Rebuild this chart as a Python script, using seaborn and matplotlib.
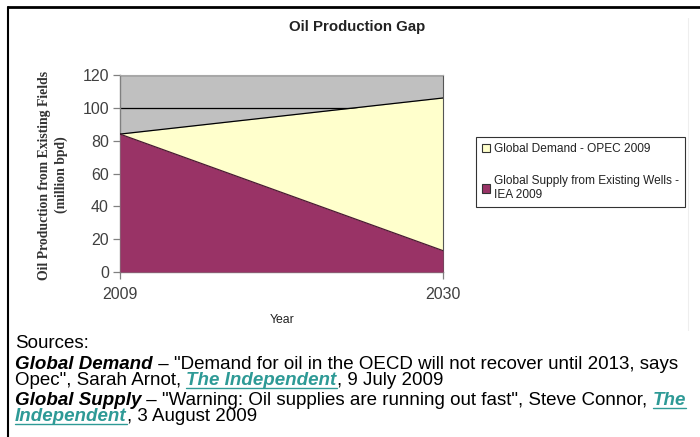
import matplotlib
matplotlib.use("Agg")
import matplotlib.pyplot as plt
import seaborn as sns
import pandas as pd
from matplotlib.lines import Line2D
from matplotlib.patches import Patch

# ---- data -------------------------------------------------------------
years = [2009, 2030]
year_labels = ["2009", "2030"]
demand = [84, 106]          # Global Demand - OPEC 2009 (million bpd)
supply = [84, 13]           # Global Supply from Existing Wells - IEA 2009
y_ticks = [0, 20, 40, 60, 80, 100, 120]
series_names = ["Global Demand - OPEC 2009",
                "Global Supply from Existing Wells -\nIEA 2009"]

W, H = 700, 437

sns.set_theme(style="white")
plt.rcParams['font.family'] = ['Liberation Sans', 'DejaVu Sans']

fig = plt.figure(figsize=(W / 100, H / 100), dpi=100)
fig.patch.set_facecolor("white")

def fx(px):
    return px / W

def fy(py):
    return 1 - py / H

# plot area
ax = fig.add_axes([fx(120), fy(272), fx(443) - fx(120), fy(75) - fy(272)])
ax.set_facecolor("#c0c0c0")

df = pd.DataFrame({"Year": years, "Demand": demand, "Supply": supply})

ax.set_axisbelow(True)
ax.yaxis.grid(True, color="black", lw=0.9)
ax.fill_between(df["Year"], 0, df["Demand"], color="#ffffcc", zorder=2, lw=0)
ax.fill_between(df["Year"], 0, df["Supply"], color="#993366", zorder=3, lw=0)
sns.lineplot(data=df, x="Year", y="Demand", color="black", lw=0.9, ax=ax, zorder=4)
sns.lineplot(data=df, x="Year", y="Supply", color="#4a1a33", lw=0.9, ax=ax, zorder=4)

ax.set_xlim(years[0], years[-1])
ax.set_ylim(y_ticks[0], y_ticks[-1])
ax.set_yticks(y_ticks)
ax.set_yticklabels([str(v) for v in y_ticks])
ax.set_xticks(years)
ax.set_xticklabels(year_labels)
ax.set_xlabel("")
ax.set_ylabel("")

for side in ["left", "bottom"]:
    ax.spines[side].set_color("#808080")
    ax.spines[side].set_linewidth(1.0)
ax.spines["top"].set_color("#a8a8a8")
ax.spines["top"].set_linewidth(0.8)
ax.spines["right"].set_color("#555555")
ax.spines["right"].set_linewidth(0.8)
ax.tick_params(axis="both", direction="out", length=5, width=0.9,
               color="#808080", labelsize=11.5, labelcolor="#404040",
               left=True, bottom=True)
ax.tick_params(axis="y", pad=3)
ax.tick_params(axis="x", pad=6)

# titles
fig.text(fx(357), fy(27), "Oil Production Gap", ha="center", va="center",
         fontsize=10.8, fontweight="bold", color="#222222")
fig.text(fx(282), fy(320), "Year", ha="center", va="center",
         fontsize=8.8, color="#222222")
fig.text(fx(53), fy(175), "Oil Production from Existing Fields\n(million bpd)",
         ha="center", va="center", rotation=90, fontsize=9.9,
         fontweight="bold", family=["Liberation Serif", "DejaVu Serif"],
         color="#333333", linespacing=1.25)

# legend
handles = [Patch(facecolor="#ffffcc", edgecolor="#333333", lw=0.8),
           Patch(facecolor="#993366", edgecolor="#333333", lw=0.8)]
leg = fig.legend(handles, series_names, loc="upper left",
                 bbox_to_anchor=(fx(476), fy(137)), fontsize=8.55,
                 frameon=True, fancybox=False, shadow=False,
                 edgecolor="black", handlelength=0.7, handleheight=0.7,
                 handletextpad=0.3, labelspacing=1.7, borderpad=0.5,
                 borderaxespad=0)
leg.get_frame().set_linewidth(0.8)
for t in leg.get_texts():
    t.set_color("#222222")

# outer frame
fig.add_artist(Line2D([fx(8), 1], [fy(7), fy(7)], color="black", lw=2))
fig.add_artist(Line2D([fx(8), fx(8)], [fy(7), 0], color="black", lw=1.5))
fig.add_artist(Line2D([fx(688), fx(688)], [fy(18), fy(330)], color="#eeeeee", lw=0.8))

# sources block
renderer = fig.canvas.get_renderer()
LINK = "#2e9a96"
SRC_SIZE = 13.5

def draw_runs(x_px, y_px, runs):
    x = fx(x_px)
    for text, style in runs:
        kw = dict(fontsize=SRC_SIZE, color="black")
        if "b" in style:
            kw["fontweight"] = "bold"
        if "i" in style:
            kw["fontstyle"] = "italic"
        if "l" in style:
            kw["color"] = LINK
        t = fig.text(x, fy(y_px), text, ha="left", va="baseline", **kw)
        bb = t.get_window_extent(renderer)
        if "l" in style:
            yy = fy(y_px + 2.5)
            fig.add_artist(Line2D([bb.x0 / W, bb.x1 / W], [yy, yy],
                                  color=LINK, lw=1.0))
        x = bb.x1 / W

draw_runs(15, 348, [("Sources:", "")])
draw_runs(15, 369, [("Global Demand", "bi"),
                    (" \u2013 \"Demand for oil in the OECD will not recover until 2013, says", "")])
draw_runs(15, 385, [("Opec\", Sarah Arnot, ", ""), ("The Independent", "bil"),
                    (", 9 July 2009", "")])
draw_runs(15, 405, [("Global Supply", "bi"),
                    (" \u2013 \"Warning: Oil supplies are running out fast\", Steve Connor, ", ""),
                    ("The", "bil")])
draw_runs(15, 421, [("Independent", "bil"), (", 3 August 2009", "")])

fig.savefig("out.png", dpi=100, facecolor="white")
